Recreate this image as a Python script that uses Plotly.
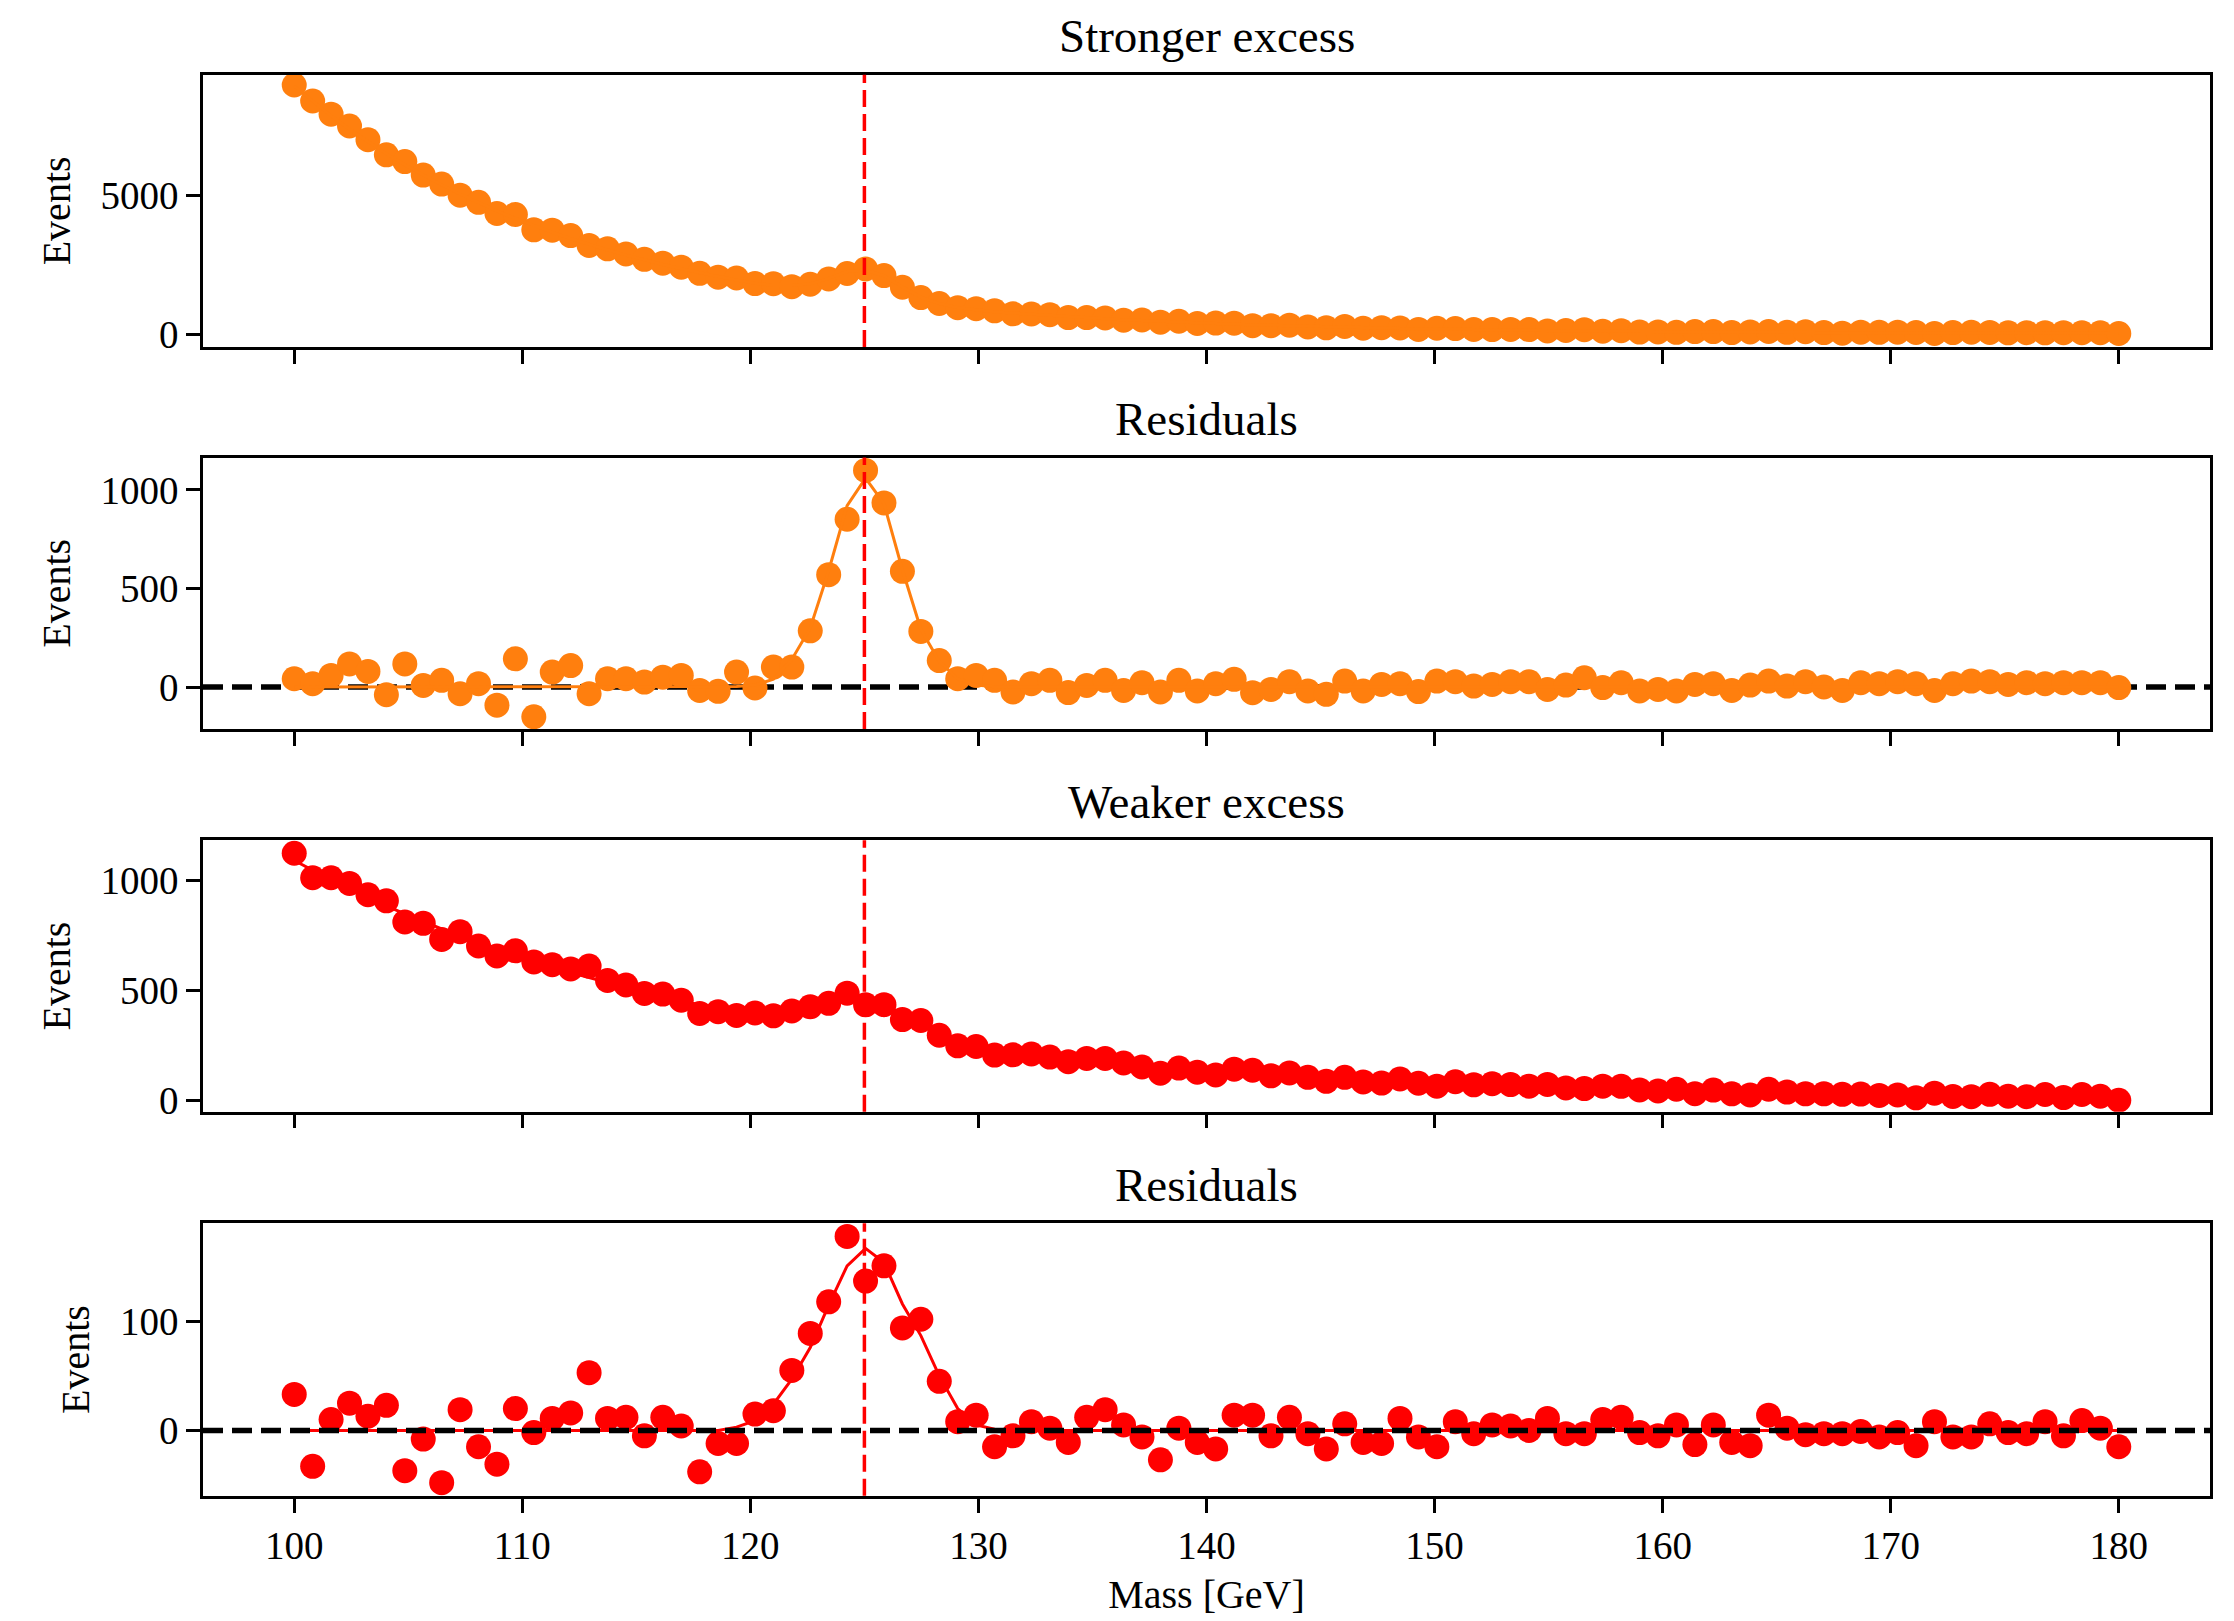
import numpy as np
import plotly.graph_objects as go
from plotly.subplots import make_subplots

# Diphoton-style invariant mass spectrum: 100 bins between 100 and 180 GeV
MASS = np.linspace(100, 180, 100)
HIGGS_MASS = 125.0

# ---- stronger excess -------------------------------------------------------
STRONG_EVENTS = [
    8972, 8398, 7925, 7499, 7008, 6464, 6221, 5737, 5412, 5014,
    4755, 4356, 4318, 3769, 3756, 3563, 3209, 3087, 2901, 2709,
    2571, 2426, 2206, 2066, 2037, 1837, 1831, 1726, 1812, 2004,
    2199, 2365, 2124, 1706, 1333, 1122, 971, 933, 856, 748,
    744, 718, 616, 614, 604, 520, 528, 451, 483, 403,
    416, 415, 325, 322, 343, 278, 245, 296, 231, 251,
    242, 190, 232, 218, 186, 185, 190, 182, 135, 150,
    180, 124, 143, 95, 98, 85, 113, 113, 75, 98,
    114, 86, 105, 75, 55, 91, 84, 92, 79, 43,
    75, 87, 82, 66, 74, 68, 71, 70, 69, 43,
]
STRONG_FIT = [
    8930, 8381, 7866, 7382, 6929, 6503, 6104, 5729, 5378, 5048,
    4738, 4448, 4175, 3920, 3680, 3454, 3243, 3045, 2859, 2684,
    2521, 2367, 2223, 2088, 1964, 1852, 1770, 1765, 1827, 2024,
    2268, 2326, 2120, 1714, 1344, 1118, 971, 884, 824, 773,
    727, 684, 644, 606, 570, 537, 506, 476, 449, 423,
    399, 376, 354, 334, 316, 298, 282, 266, 251, 238,
    225, 213, 202, 191, 181, 172, 163, 155, 147, 140,
    133, 127, 121, 115, 110, 105, 100, 96, 92, 88,
    84, 81, 78, 75, 72, 69, 67, 65, 62, 60,
    58, 57, 55, 53, 52, 51, 49, 48, 47, 46,
]
STRONG_RESID = [
    42, 17, 59, 117, 79, -39, 117, 8, 34, -34,
    17, -92, 143, -151, 76, 109, -34, 42, 42, 25,
    50, 59, -17, -22, 76, -5, 101, 101, 285, 570,
    851, 1099, 934, 587, 282, 134, 42, 59, 34, -25,
    17, 34, -28, 8, 34, -17, 22, -25, 34, -20,
    17, 39, -29, -12, 27, -20, -37, 30, -20, 13,
    17, -23, 30, 27, 5, 13, 27, 27, -12, 10,
    47, -3, 22, -20, -12, -20, 13, 17, -17, 10,
    30, 5, 27, 0, -17, 22, 17, 27, 17, -17,
    17, 30, 27, 13, 22, 17, 22, 22, 22, -3,
]
STRONG_SIGNAL = (
    [0] * 24
    + [3, 10, 40, 140, 300, 590, 920, 1060, 930, 595, 293, 130, 42, 10, 2]
    + [0] * 61
)

# ---- weaker excess ---------------------------------------------------------
WEAK_EVENTS = [
    1123, 1012, 1012, 986, 935, 907, 811, 805, 732, 767,
    702, 657, 680, 630, 617, 598, 611, 546, 525, 487,
    484, 456, 396, 404, 387, 398, 385, 407, 426, 442,
    488, 435, 436, 368, 364, 297, 249, 246, 207, 208,
    212, 198, 177, 192, 192, 171, 153, 125, 148, 129,
    117, 143, 138, 113, 126, 106, 88, 106, 85, 80,
    99, 79, 66, 86, 72, 77, 73, 66, 74, 58,
    55, 66, 65, 49, 44, 52, 32, 48, 31, 26,
    52, 39, 31, 31, 29, 30, 24, 26, 13, 34,
    19, 18, 29, 20, 18, 28, 14, 28, 20, 2,
]
WEAK_FIT = [
    1090, 1045, 1002, 961, 922, 884, 848, 813, 780, 748,
    717, 688, 660, 632, 606, 582, 558, 535, 513, 492,
    472, 452, 434, 416, 402, 392, 391, 399, 413, 439,
    461, 465, 439, 390, 349, 302, 261, 237, 222, 213,
    204, 196, 188, 180, 173, 166, 159, 152, 146, 140,
    134, 129, 124, 118, 114, 109, 105, 100, 96, 92,
    88, 85, 81, 78, 75, 72, 69, 66, 63, 61,
    58, 56, 53, 51, 49, 47, 45, 43, 42, 40,
    38, 37, 35, 34, 32, 31, 30, 28, 27, 26,
    25, 24, 23, 22, 21, 20, 19, 19, 18, 17,
]
WEAK_RESID = [
    33, -33, 10, 25, 13, 23, -37, -8, -48, 19,
    -15, -31, 20, -2, 11, 16, 53, 11, 12, -5,
    12, 4, -38, -12, -12, 15, 18, 55, 89, 118,
    178, 137, 151, 94, 102, 45, 8, 14, -15, -5,
    8, 2, -11, 12, 19, 5, -6, -27, 2, -11,
    -17, 14, 14, -5, 12, -3, -17, 6, -11, -12,
    11, -6, -15, 8, -3, 5, 4, 0, 11, -3,
    -3, 10, 12, -2, -5, 5, -13, 5, -11, -14,
    14, 2, -4, -3, -3, -1, -6, -2, -14, 8,
    -6, -6, 6, -2, -3, 8, -5, 9, 2, -15,
]
WEAK_SIGNAL = (
    [0] * 24
    + [3, 9, 24, 47, 76, 115, 151, 167, 154, 116, 87, 50, 20, 5, 1]
    + [0] * 61
)

PANEL_TITLES = ["Stronger excess", "Residuals", "Weaker excess", "Residuals"]
X_TICKS = [100, 110, 120, 130, 140, 150, 160, 170, 180]
Y_TICKS = [[0, 5000], [0, 500, 1000], [0, 500, 1000], [0, 100]]

for series in (STRONG_EVENTS, STRONG_FIT, STRONG_RESID, STRONG_SIGNAL,
               WEAK_EVENTS, WEAK_FIT, WEAK_RESID, WEAK_SIGNAL):
    assert len(series) == len(MASS)

# ---- styling / layout --------------------------------------------------------
ORANGE = "#ff7f0e"
RED = "#ff0000"
FONT = "Liberation Serif"
W, H = 2234, 1621

X_DOMAIN = [203 / W, 2210 / W]
# (top, bottom) of each panel in pixels from the top edge
PANEL_PX = [(75.3, 349.3), (460.7, 734.0), (846.0, 1119.3), (1231.7, 1506.0)]
Y_RANGES = [[-440, 9340], [-213, 1164], [-50, 1182], [-60, 190]]
X_RANGE = [96, 184]

panels = [
    (STRONG_EVENTS, STRONG_FIT, ORANGE),
    (STRONG_RESID, STRONG_SIGNAL, ORANGE),
    (WEAK_EVENTS, WEAK_FIT, RED),
    (WEAK_RESID, WEAK_SIGNAL, RED),
]

fig = make_subplots(rows=4, cols=1, shared_xaxes=True, vertical_spacing=0.05)

for i, (points, model, colour) in enumerate(panels, start=1):
    fig.add_trace(
        go.Scatter(x=MASS, y=points, mode="markers",
                   marker=dict(size=25, color=colour, line=dict(width=0)),
                   showlegend=False, hoverinfo="x+y"),
        row=i, col=1)
    fig.add_trace(
        go.Scatter(x=MASS, y=model, mode="lines",
                   line=dict(color=colour, width=3),
                   showlegend=False, hoverinfo="skip"),
        row=i, col=1)

# zero reference for the residual panels
fig.add_hline(y=0, row=2, col=1, layer="below",
              line=dict(color="black", width=5.5, dash="20px,9px"))
fig.add_hline(y=0, row=4, col=1, layer="above",
              line=dict(color="black", width=5.5, dash="20px,9px"))

# nominal Higgs mass marker
for i in range(1, 5):
    fig.add_vline(x=HIGGS_MASS, row=i, col=1, layer="above",
                  line=dict(color=RED, width=3.5, dash="17px,7px"))

axis_common = dict(
    showline=True, mirror=True, linecolor="black", linewidth=2.5,
    ticks="outside", ticklen=14, tickwidth=2.5, tickcolor="black",
    showgrid=False, zeroline=False,
    tickfont=dict(family=FONT, size=39, color="black"),
)

for i in range(1, 5):
    top_px, bot_px = PANEL_PX[i - 1]
    xa = "xaxis" if i == 1 else f"xaxis{i}"
    ya = "yaxis" if i == 1 else f"yaxis{i}"
    fig.update_layout({
        xa: dict(axis_common, domain=X_DOMAIN, range=X_RANGE,
                 tickvals=X_TICKS, showticklabels=(i == 4)),
        ya: dict(axis_common, domain=[1 - bot_px / H, 1 - top_px / H],
                 range=Y_RANGES[i - 1], tickvals=Y_TICKS[i - 1],
                 title=dict(text="Events", standoff=18,
                            font=dict(family=FONT, size=40, color="black"))),
    })
    fig.add_annotation(
        text=PANEL_TITLES[i - 1], xref="paper", yref="paper",
        x=sum(X_DOMAIN) / 2, y=1 - (top_px - 39) / H,
        xanchor="center", yanchor="middle", showarrow=False,
        font=dict(family=FONT, size=47, color="black"))

fig.update_layout(
    xaxis4=dict(title=dict(text="Mass [GeV]", standoff=14,
                           font=dict(family=FONT, size=40, color="black"))),
)

fig.update_layout(
    width=W, height=H,
    margin=dict(l=0, r=0, t=0, b=0),
    paper_bgcolor="white", plot_bgcolor="white",
    font=dict(family=FONT, color="black"),
)

fig.write_html("out.html")
